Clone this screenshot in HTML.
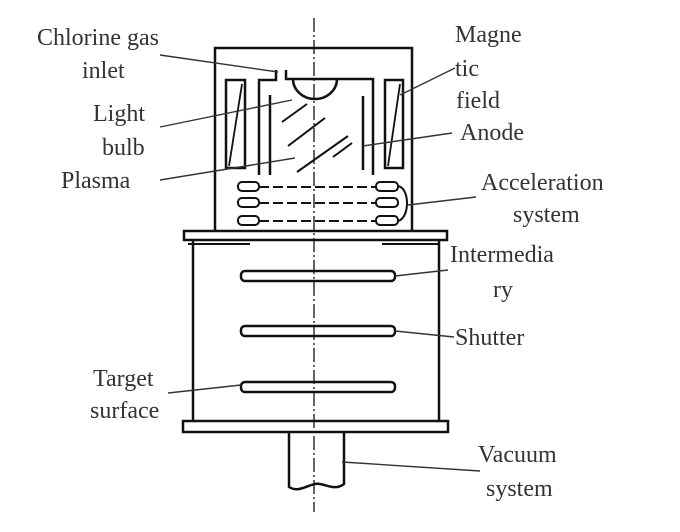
<!DOCTYPE html>
<html><head><style>
body{margin:0;background:#fff}
svg{display:block}
text{font-family:"Liberation Serif",serif;font-size:24px;fill:#333}
</style></head><body>
<svg width="680" height="532" viewBox="0 0 680 532" xmlns="http://www.w3.org/2000/svg">
<g stroke="#111" fill="none" stroke-width="2.5">
<!-- center line -->
<line x1="314" y1="18" x2="314" y2="512" stroke-width="1.3" stroke-dasharray="14,3,2,3"/>
<!-- top box -->
<polyline points="215,232 215,48 412,48 412,232"/>
<!-- top flange -->
<rect x="184" y="231" width="263" height="9" stroke-width="2.5"/>
<!-- lower cylinder -->
<line x1="193" y1="240" x2="193" y2="421"/>
<line x1="439" y1="240" x2="439" y2="421"/>
<rect x="183" y="421" width="265" height="11"/>
<!-- plates -->
<rect x="241" y="271" width="154" height="10" rx="4"/>
<rect x="241" y="326" width="154" height="10" rx="4"/>
<rect x="241" y="382" width="154" height="10" rx="4"/>
<!-- stem -->
<path d="M289,432 V487 C300,494 310,482 320,484 C330,486 336,490 344,484 V432"/>
<!-- magnets -->
<rect x="226" y="80" width="19" height="88"/>
<line x1="229" y1="166" x2="242" y2="84" stroke-width="1.8"/>
<rect x="385" y="80" width="18" height="88"/>
<line x1="388" y1="166" x2="400" y2="84" stroke-width="1.8"/>
<!-- inner tubes -->
<polyline points="259,175 259,80 276,80 276,70"/>
<line x1="270" y1="95" x2="270" y2="175"/>
<polyline points="286,70 286,79 373,79 373,175"/>
<line x1="363" y1="96" x2="363" y2="170"/>
<path d="M293,79 A22,20 0 0 0 337,79"/>
<!-- plasma hatch -->
<g stroke-width="2">
<line x1="282" y1="122" x2="307" y2="104"/>
<line x1="288" y1="146" x2="325" y2="118"/>
<line x1="297" y1="172" x2="348" y2="136"/>
<line x1="333" y1="157" x2="352" y2="143"/>
</g>
<!-- acceleration -->
<g stroke-width="2">
<rect x="238" y="182" width="21" height="9" rx="4"/>
<rect x="238" y="198" width="21" height="9" rx="4"/>
<rect x="238" y="216" width="21" height="9" rx="4"/>
<rect x="376" y="182" width="22" height="9" rx="4"/>
<rect x="376" y="198" width="22" height="9" rx="4"/>
<rect x="376" y="216" width="22" height="9" rx="4"/>
<g stroke-dasharray="10,4">
<line x1="259" y1="187" x2="376" y2="187"/>
<line x1="259" y1="203" x2="376" y2="203"/>
<line x1="259" y1="221" x2="376" y2="221"/>
</g>
<path d="M398,186 C410,188 410,218 398,221"/>
</g>
<!-- flange gaps -->
<line x1="188" y1="244" x2="250" y2="244" stroke-width="2"/>
<line x1="382" y1="244" x2="440" y2="244" stroke-width="2"/>
</g>
<!-- leaders -->
<g stroke="#333" stroke-width="1.4" fill="none">
<line x1="160" y1="55" x2="278" y2="72"/>
<line x1="160" y1="127" x2="292" y2="100"/>
<line x1="160" y1="180" x2="295" y2="158"/>
<line x1="455" y1="68" x2="400" y2="95"/>
<line x1="452" y1="133" x2="363" y2="146"/>
<line x1="476" y1="197" x2="408" y2="205"/>
<line x1="448" y1="270" x2="395" y2="276"/>
<line x1="454" y1="337" x2="395" y2="331"/>
<line x1="168" y1="393" x2="241" y2="385"/>
<line x1="480" y1="471" x2="342" y2="462"/>
</g>
<text x="37" y="45">Chlorine gas</text>
<text x="82" y="78">inlet</text>
<text x="93" y="121">Light</text>
<text x="102" y="155">bulb</text>
<text x="61" y="188">Plasma</text>
<text x="455" y="42">Magne</text>
<text x="455" y="76">tic</text>
<text x="456" y="108">field</text>
<text x="460" y="140">Anode</text>
<text x="481" y="190">Acceleration</text>
<text x="513" y="222">system</text>
<text x="450" y="262">Intermedia</text>
<text x="493" y="297">ry</text>
<text x="455" y="345">Shutter</text>
<text x="93" y="386">Target</text>
<text x="90" y="418">surface</text>
<text x="478" y="462">Vacuum</text>
<text x="486" y="496">system</text>
</svg>
</body></html>
